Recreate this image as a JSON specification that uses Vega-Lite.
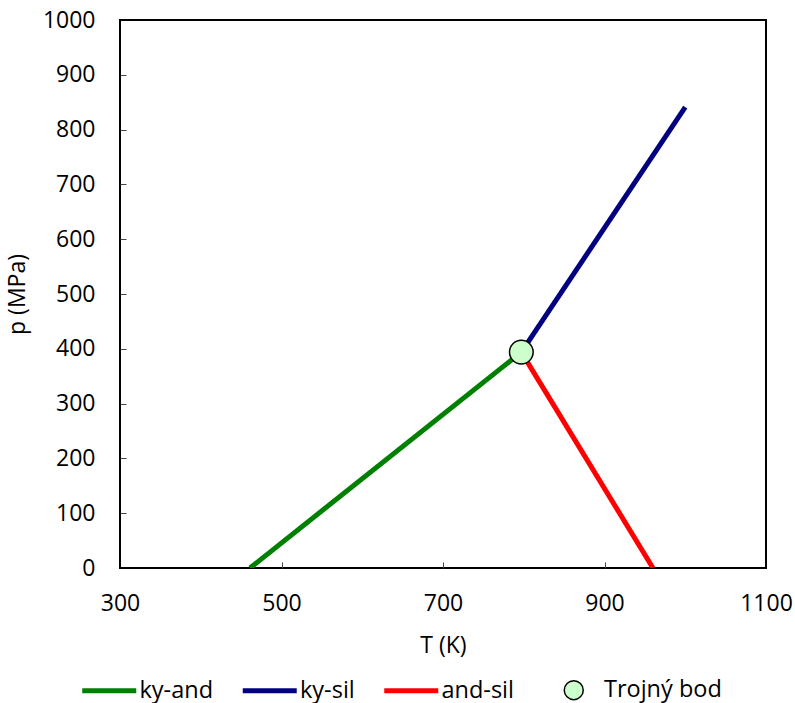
{
  "$schema": "https://vega.github.io/schema/vega-lite/v6.json",
  "width": 646,
  "height": 548,
  "autosize": "none",
  "padding": {"left": 120, "top": 20, "right": 29, "bottom": 135},
  "background": "white",
  "config": {
    "font": "Open Sans",
    "view": {"stroke": "black", "strokeWidth": 2},
    "axis": {"grid": false, "domain": false, "labelFontSize": 23, "labelColor": "black", "labelFlush": false, "titleFontSize": 23, "titleFontWeight": "normal", "titleColor": "black", "tickColor": "#444", "tickWidth": 1, "format": "d"}
  },
  "resolve": {"axis": {"x": "independent", "y": "independent"}},
  "datasets": {
    "curves": [
      {"series": "ky-and", "T": 461, "p": 0},
      {"series": "ky-and", "T": 797, "p": 394},
      {"series": "ky-sil", "T": 797, "p": 394},
      {"series": "ky-sil", "T": 1000, "p": 841},
      {"series": "and-sil", "T": 797, "p": 394},
      {"series": "and-sil", "T": 960, "p": 0}
    ],
    "triple": [
      {"series": "Trojný bod", "T": 797, "p": 394}
    ]
  },
  "layer": [
    {
      "data": {"name": "curves"},
      "mark": {"type": "line", "strokeWidth": 5, "strokeCap": "butt", "clip": true},
      "encoding": {
        "x": {"field": "T", "type": "quantitative", "scale": {"domain": [300, 1100], "nice": false, "zero": false},
          "axis": {"orient": "bottom", "values": [300, 500, 700, 900, 1100], "title": "T (K)", "ticks": false, "labelPadding": 24, "titlePadding": 19}},
        "y": {"field": "p", "type": "quantitative", "scale": {"domain": [0, 1000], "nice": false},
          "axis": {"orient": "left", "values": [0,100,200,300,400,500,600,700,800,900,1000], "title": "p (MPa)", "ticks": false, "labelPadding": 25, "titlePadding": 13}},
        "color": {"field": "series", "type": "nominal",
          "scale": {"domain": ["ky-and", "ky-sil", "and-sil", "Trojný bod"], "range": ["#008000", "#000080", "#ff0000", "#000000"]},
          "legend": {
            "title": null,
            "orient": "none",
            "direction": "horizontal",
            "legendX": -22.5,
            "legendY": 658,
            "symbolSize": 2916,
            "symbolType": "stroke",
            "symbolStrokeWidth": 5,
            "labelFontSize": 23.5,
            "labelColor": "black",
            "labelLimit": 300,
            "labelOffset": 18.5,
            "columnPadding": 18.5,
            "encode": {
              "labels": {
                "update": {
                  "dx": {"signal": "datum.value === 'Trojný bod' ? 28 : 0"}
                }
              },
              "symbols": {
                "update": {
                  "shape": {"signal": "datum.value === 'Trojný bod' ? 'M-0.95,0M3.75,0A0.95,0.95,0,1,1,1.85,0A0.95,0.95,0,1,1,3.75,0Z' : 'stroke'"},
                  "size": {"signal": "datum.value === 'Trojný bod' ? 400 : 2916"},
                  "fill": {"signal": "datum.value === 'Trojný bod' ? '#ccffcc' : 'transparent'"},
                  "stroke": {"signal": "datum.value === 'Trojný bod' ? '#000000' : (datum.value === 'ky-and' ? '#008000' : (datum.value === 'ky-sil' ? '#000080' : '#ff0000'))"},
                  "strokeWidth": {"signal": "datum.value === 'Trojný bod' ? 1.5 : 5"},
                  "strokeOpacity": {"value": 1},
                  "opacity": {"value": 1}
                }
              }
            }
          }
        },
        "detail": {"field": "series"}
      }
    },
    {
      "data": {"name": "triple"},
      "mark": {"type": "point", "filled": true, "size": 560, "fill": "#ccffcc", "stroke": "black", "strokeWidth": 1.5, "opacity": 1, "fillOpacity": 1},
      "encoding": {
        "x": {"field": "T", "type": "quantitative",
          "axis": {"orient": "bottom", "values": [500, 700, 900], "title": null, "labels": false, "domain": false, "ticks": true, "tickSize": 6, "offset": -6}},
        "y": {"field": "p", "type": "quantitative",
          "axis": {"orient": "left", "values": [100,200,300,400,500,600,700,800,900], "title": null, "labels": false, "domain": false, "ticks": true, "tickSize": 6, "offset": -6}}
      }
    }
  ]
}
